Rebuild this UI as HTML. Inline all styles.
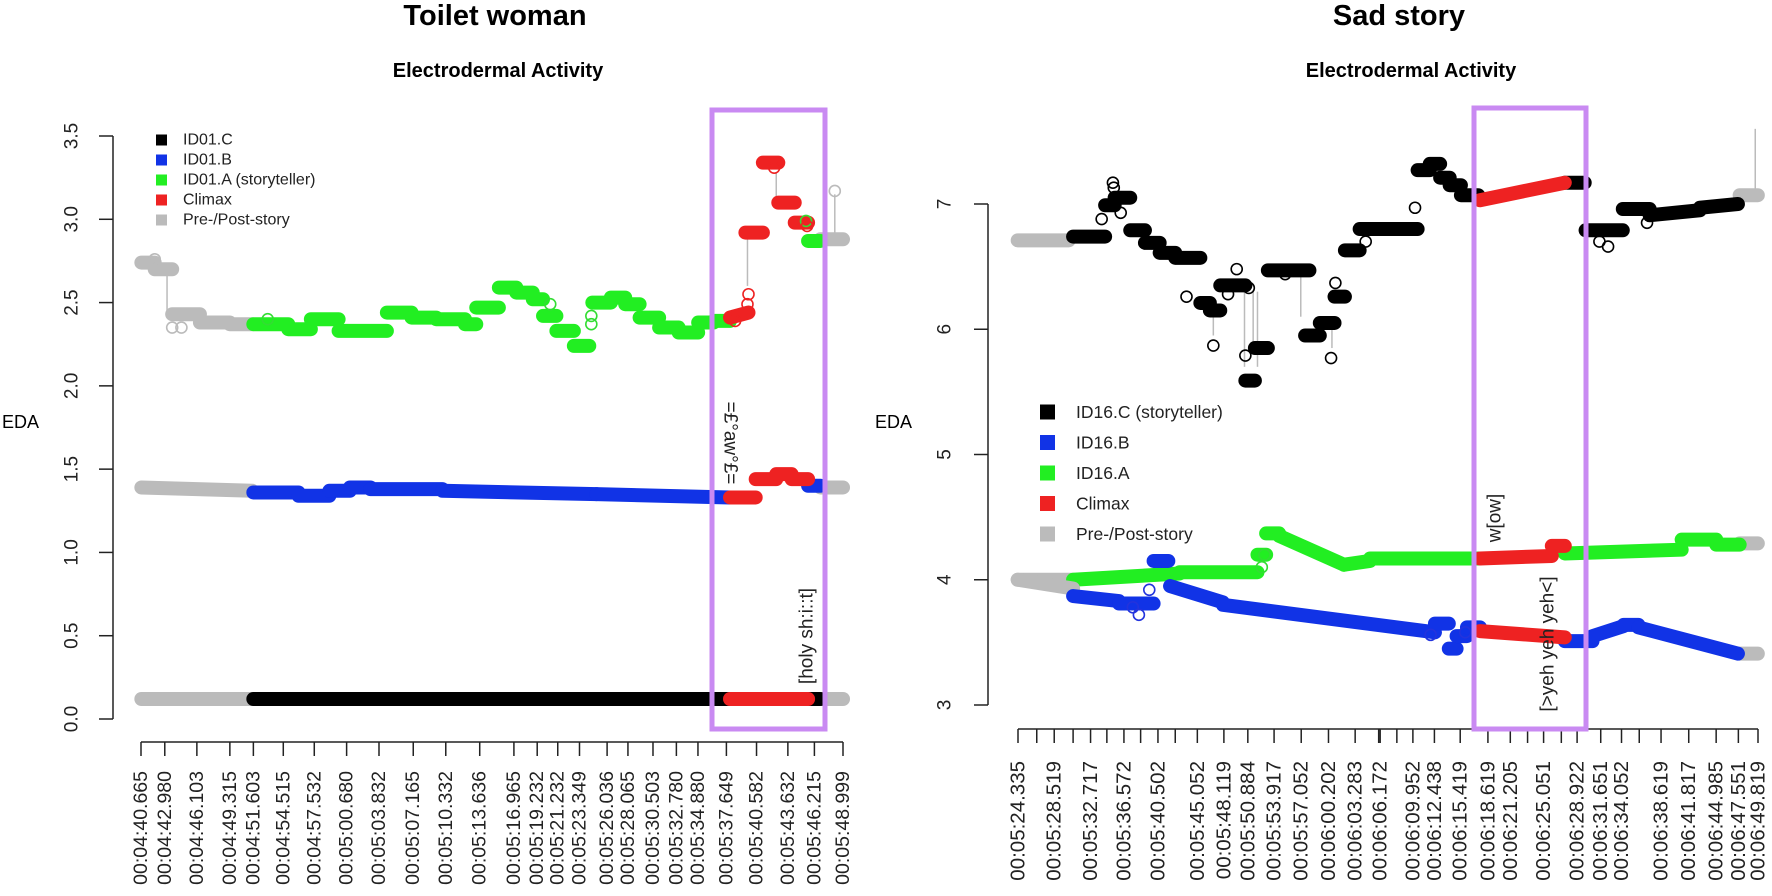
<!DOCTYPE html>
<html><head><meta charset="utf-8">
<style>
html,body{margin:0;padding:0;background:#fff;}
svg{display:block;font-family:"Liberation Sans",Arial,sans-serif;}
</style></head>
<body>
<svg id="fig" width="1772" height="896" viewBox="0 0 1772 896" xmlns="http://www.w3.org/2000/svg">
<text x="495" y="25" font-size="29" font-weight="bold" text-anchor="middle">Toilet woman</text>
<text x="498" y="77" font-size="20" font-weight="bold" text-anchor="middle">Electrodermal Activity</text>
<text x="1399" y="25" font-size="29" font-weight="bold" text-anchor="middle">Sad story</text>
<text x="1411" y="77" font-size="20" font-weight="bold" text-anchor="middle">Electrodermal Activity</text>
<text x="2" y="428" font-size="18">EDA</text>
<text x="875" y="428" font-size="18">EDA</text>
<g id="left"></g>
<g id="right"></g>
</svg>
<script>
// ---------- LEFT CHART DATA (Toilet woman) ----------
const leftTickLabels = ["00:04:40.665","00:04:42.980","00:04:46.103","00:04:49.315","00:04:51.603","00:04:54.515","00:04:57.532","00:05:00.680","00:05:03.832","00:05:07.165","00:05:10.332","00:05:13.636","00:05:16.965","00:05:19.232","00:05:21.232","00:05:23.349","00:05:26.036","00:05:28.065","00:05:30.503","00:05:32.780","00:05:34.880","00:05:37.649","00:05:40.582","00:05:43.632","00:05:46.215","00:05:48.999"];
const leftYTicks = [0.0,0.5,1.0,1.5,2.0,2.5,3.0,3.5];
const leftYLabels = ["0.0","0.5","1.0","1.5","2.0","2.5","3.0","3.5"];
// segments: [t0, t1, v0, v1?]
const leftCGray = [[280.7,291.5,0.12],[346.8,349.0,0.12]];
const leftCMain = [[291.6,338.0,0.12],[345.6,346.8,0.12]];
const leftCRed = [[338.0,345.6,0.12]];
const leftBGray = [[280.7,291.5,1.39,1.37],[346.8,349.0,1.39]];
const leftBMain = [[291.6,296,1.36],[296,299,1.34],[299,301,1.37],[301,303,1.39],[303,310,1.38],[310,325,1.37,1.35],[325,338,1.35,1.33],[345.6,346.8,1.40]];
const leftBRed = [[338,340.5,1.33],[340.5,342.5,1.44],[342.5,344,1.47],[344,345.6,1.44]];
const leftAGray = [[280.7,282.0,2.74],[282.0,283.7,2.70],[283.7,286.4,2.43],[286.4,289.3,2.38],[289.3,291.5,2.37],[346.8,349.0,2.88]];
const leftAMain = [[291.6,295.0,2.37],[295.0,297.2,2.34],[297.2,299.9,2.40],[299.9,304.6,2.33],[304.6,307.0,2.44],[307.0,309.4,2.41],[309.4,312.2,2.40],[312.2,313.3,2.37],[313.3,315.5,2.47],[315.5,317.2,2.59],[317.2,318.8,2.56],[318.8,319.8,2.52],[319.8,321.1,2.42],[321.1,322.8,2.33],[322.8,324.3,2.24],[324.6,326.4,2.50],[326.4,327.8,2.53],[327.8,329.2,2.49],[329.2,331.1,2.41],[331.1,333.0,2.35],[333.0,334.9,2.32],[334.9,336.4,2.38],[336.4,338.0,2.39],[345.6,346.8,2.87]];
const leftARed = [[338.0,339.8,2.41,2.44],[339.5,341.2,2.92],[341.2,342.7,3.34],[342.7,344.3,3.10],[344.3,345.6,2.98]];
const leftCircles = [[282.0,2.76,"#bbbbbb"],[283.7,2.35,"#bbbbbb"],[284.6,2.35,"#bbbbbb"],[293.0,2.40,"#33dd33"],[320.5,2.49,"#33dd33"],[324.5,2.42,"#33dd33"],[324.5,2.37,"#33dd33"],[338.5,2.39,"#ee2222"],[339.7,2.49,"#ee2222"],[339.8,2.55,"#ee2222"],[342.3,3.31,"#ee2222"],[345.4,2.99,"#33dd33"],[345.5,2.96,"#ee2222"],[348.2,3.17,"#bbbbbb"]];
const leftConnectors = [[283.2,2.70,2.45],[339.7,2.60,2.90],[342.5,3.12,3.28],[348.2,2.90,3.15]];

// ---------- RIGHT CHART DATA (Sad story) ----------
const rightTickTimes = [324.335,326.5,328.519,330.7,332.717,334.6,336.572,338.5,340.502,342.5,345.052,348.119,350.884,353.917,357.052,360.202,363.283,366.0,366.172,368.1,369.952,372.438,375.419,378.619,381.205,383.2,385.051,387.1,388.922,391.651,394.052,396.1,398.619,401.817,404.985,407.551,409.819];
const rightTickLabels = ["00:05:24.335","","00:05:28.519","","00:05:32.717","","00:05:36.572","","00:05:40.502","","00:05:45.052","00:05:48.119","00:05:50.884","00:05:53.917","00:05:57.052","00:06:00.202","00:06:03.283","","00:06:06.172","","00:06:09.952","00:06:12.438","00:06:15.419","00:06:18.619","00:06:21.205","","00:06:25.051","","00:06:28.922","00:06:31.651","00:06:34.052","","00:06:38.619","00:06:41.817","00:06:44.985","00:06:47.551","00:06:49.819"];
const rightYTicks = [3,4,5,6,7];
const rightYLabels = ["3","4","5","6","7"];
const rightCGray = [[324.3,330.2,6.71],[407.7,409.8,7.07]];
const rightCMain = [[330.7,334.4,6.74],[334.4,335.5,6.99],[335.5,337.3,7.05],[337.3,339.0,6.79],[339.0,340.7,6.69],[340.7,342.5,6.61],[342.5,345.4,6.57],[345.4,346.5,6.21],[346.5,347.7,6.15],[347.7,350.6,6.35],[350.6,351.7,5.59],[351.7,353.2,5.85],[353.2,358.0,6.47],[357.5,359.2,5.95],[359.2,360.9,6.05],[360.9,362.1,6.26],[362.1,363.8,6.63],[363.8,370.5,6.80],[370.5,371.9,7.27],[371.9,373.1,7.32],[373.1,374.2,7.21],[374.2,375.5,7.15],[375.5,377.5,7.07],[387.5,389.8,7.17],[389.9,394.2,6.79],[394.2,397.3,6.96],[397.3,403.1,6.91,6.95],[403.1,407.5,6.97,7.0]];
const rightCRed = [[377.7,387.5,7.03,7.17]];
const rightBGray = [[324.3,330.7,4.0,3.93],[407.7,409.8,3.41]];
const rightBMain = [[330.7,336,3.87,3.83],[336,340,3.81],[340,341.7,4.15],[341.9,348,3.95,3.82],[348,372.5,3.80,3.58],[372.5,374.1,3.65],[374.1,375.0,3.45],[375.0,376.2,3.55],[376.2,377.7,3.62],[387.5,390.7,3.51],[390.7,394.3,3.55,3.63],[394.3,396,3.64],[396,407.5,3.62,3.41]];
const rightBRed = [[377.7,387.5,3.59,3.54]];
const rightAGray = [[324.3,330.7,4.0],[407.7,409.8,4.29]];
const rightAMain = [[330.7,343,4.0,4.05],[343,352.0,4.06],[352.0,353.0,4.2],[353.0,354.5,4.37],[354.5,362,4.35,4.12],[362,365,4.12,4.15],[365,377.7,4.17],[387.5,401,4.21,4.24],[401,405,4.32],[405,407.7,4.28]];
const rightARed = [[377.7,386.0,4.17,4.19],[386,387.5,4.27]];
const rightCircles = [[334.0,6.88,"#000"],[335.3,7.17,"#000"],[335.4,7.13,"#000"],[336.2,6.93,"#000"],[343.8,6.26,"#000"],[346.9,5.87,"#000"],[348.6,6.28,"#000"],[349.6,6.48,"#000"],[350.6,5.79,"#000"],[351.0,6.33,"#000"],[355.2,6.44,"#000"],[360.5,5.77,"#000"],[361.0,6.37,"#000"],[364.5,6.70,"#000"],[370.2,6.97,"#000"],[391.5,6.70,"#000"],[392.5,6.66,"#000"],[397.0,6.85,"#000"],[352.5,4.10,"#33dd33"],[352.8,4.20,"#33dd33"],[337.6,3.78,"#2233dd"],[338.3,3.72,"#2233dd"],[339.5,3.92,"#2233dd"],[372.0,3.56,"#2233dd"],[376.0,3.58,"#2233dd"]];
const rightConnectors = [[346.9,5.95,6.15],[350.5,5.70,6.30],[351.5,5.90,6.30],[352.0,5.70,6.30],[357.0,6.10,6.45],[360.6,5.85,6.00],[409.5,7.10,7.60]];

const NS = "http://www.w3.org/2000/svg";
const COLORS = {black:"#000000", blue:"#1133e6", green:"#22ee22", red:"#ee2222", gray:"#bbbbbb"};
function mk(tag, attrs, parent){ const e=document.createElementNS(NS,tag); for(const k in attrs) e.setAttribute(k,attrs[k]); parent.appendChild(e); return e; }

function drawChart(g, cfg){
  const xs = t => cfg.x0 + (t - cfg.t0) * (cfg.x1 - cfg.x0) / (cfg.t1 - cfg.t0);
  const ys = v => cfg.yb - (v - cfg.v0) * (cfg.yb - cfg.yt) / (cfg.v1 - cfg.v0);
  const ya = mk("line",{x1:cfg.yaxX,x2:cfg.yaxX,y1:ys(cfg.yTicks[0]),y2:ys(cfg.yTicks[cfg.yTicks.length-1]),stroke:"#222","stroke-width":1.5},g);
  
  
  cfg.yTicks.forEach((v,i)=>{
    const tk = mk("line",{x1:cfg.yaxX-14,x2:cfg.yaxX,y1:ys(v),y2:ys(v),stroke:"#222","stroke-width":1.5},g);
    
    
    const tx = mk("text",{x:cfg.yLabX,y:ys(v),"font-size":19,"text-anchor":"middle",fill:"#222",transform:`rotate(-90 ${cfg.yLabX} ${ys(v)})`,"dominant-baseline":"central"},g);
    tx.textContent = cfg.yLabels[i];
    
    
  });
  const xa = mk("line",{x1:xs(cfg.xTicks[0]),x2:xs(cfg.xTicks[cfg.xTicks.length-1]),y1:cfg.xaxY,y2:cfg.xaxY,stroke:"#222","stroke-width":1.5},g);
  
  
  cfg.xTicks.forEach((t,i)=>{
    const x = xs(t);
    const tk = mk("line",{x1:x,x2:x,y1:cfg.xaxY,y2:cfg.xaxY+14,stroke:"#222","stroke-width":1.5},g);
    
    
    if(cfg.xLabels[i]){
      const tx = mk("text",{x:x,y:cfg.xLabY,"font-size":cfg.xFont,"text-anchor":"end","dominant-baseline":"central",fill:"#222",transform:`rotate(-90 ${x} ${cfg.xLabY})`},g);
      tx.textContent = cfg.xLabels[i];
      
      
    }
  });
  cfg.connectors.forEach(c=>{
    const l = mk("line",{x1:xs(c[0]),x2:xs(c[0]),y1:ys(c[1]),y2:ys(c[2]),stroke:"#bbbbbb","stroke-width":1.5},g);
    
    
  });
  cfg.series.forEach(s=>{
    s.segs.forEach(sg=>{
      const v1 = sg.length>3 ? sg[3] : sg[2];
      const p = mk("line",{x1:xs(sg[0]),x2:xs(sg[1]),y1:ys(sg[2]),y2:ys(v1),stroke:s.color,"stroke-width":14,"stroke-linecap":"round"},g);
      
      
    });
  });
  cfg.circles.forEach(c=>{
    const ci = mk("circle",{cx:xs(c[0]),cy:ys(c[1]),r:5.5,fill:"none",stroke:c[2],"stroke-width":1.6},g);
    
    
  });
  const bx = mk("rect",{x:cfg.box[0],y:cfg.box[1],width:cfg.box[2]-cfg.box[0],height:cfg.box[3]-cfg.box[1],fill:"none",stroke:"#c98af2","stroke-width":5},g);
  
  
  cfg.notes.forEach(n=>{
    const tx = mk("text",{x:n.x,y:n.y,"font-size":19,"text-anchor":"middle","dominant-baseline":"central",fill:"#222",transform:`rotate(${n.rot} ${n.x} ${n.y})`},g);
    tx.textContent = n.text;
    
    
  });
  cfg.legend.forEach((lg,i)=>{
    const y = cfg.legY + i*cfg.legDy;
    const r = mk("rect",{x:cfg.legX,y:y-cfg.legSq/2,width:cfg.legSq,height:cfg.legSq,fill:lg[1]},g);
    
    
    const tx = mk("text",{x:cfg.legTX,y:y,"font-size":cfg.legFont,"dominant-baseline":"central",fill:"#222"},g);
    tx.textContent = lg[0];
    
    
  });
}

const leftTickTimes = leftTickLabels.map(s=>{const p=s.split(":");return +p[1]*60 + +p[2];});
drawChart(document.getElementById("left"),{
  t0:280.665,t1:348.999,x0:141,x1:843,v0:0,v1:3.5,yb:719,yt:136,
  yaxX:113,yLabX:72,xaxY:742,xLabY:771,xFont:19.5,
  yTicks:leftYTicks,yLabels:leftYLabels,xTicks:leftTickTimes,xLabels:leftTickLabels,
  series:[
    {name:"id01c-prepost",color:COLORS.gray,segs:leftCGray},
    {name:"id01c-series",color:COLORS.black,segs:leftCMain},
    {name:"id01c-climax",color:COLORS.red,segs:leftCRed},
    {name:"id01b-prepost",color:COLORS.gray,segs:leftBGray},
    {name:"id01b-series",color:COLORS.blue,segs:leftBMain},
    {name:"id01b-climax",color:COLORS.red,segs:leftBRed},
    {name:"id01a-prepost",color:COLORS.gray,segs:leftAGray},
    {name:"id01a-series",color:COLORS.green,segs:leftAMain},
    {name:"id01a-climax",color:COLORS.red,segs:leftARed}
  ],
  circles:leftCircles,connectors:leftConnectors,
  box:[712,110,825,729],
  notes:[{text:"=£°aw°£=",x:730,y:443,rot:90},{text:"[holy sh:i::t]",x:807,y:636,rot:-90}],
  legend:[["ID01.C",COLORS.black],["ID01.B",COLORS.blue],["ID01.A (storyteller)",COLORS.green],["Climax",COLORS.red],["Pre-/Post-story",COLORS.gray]],
  legX:156,legY:140,legDy:20,legSq:11,legTX:183,legFont:16
});
drawChart(document.getElementById("right"),{
  t0:324.335,t1:409.819,x0:1018,x1:1758,v0:3,v1:7,yb:705,yt:204,
  yaxX:988,yLabX:945,xaxY:729,xLabY:761,xFont:20.5,
  yTicks:rightYTicks,yLabels:rightYLabels,xTicks:rightTickTimes,xLabels:rightTickLabels,
  series:[
    {name:"id16c-prepost",color:COLORS.gray,segs:rightCGray},
    {name:"id16c-series",color:COLORS.black,segs:rightCMain},
    {name:"id16c-climax",color:COLORS.red,segs:rightCRed},
    {name:"id16a-prepost",color:COLORS.gray,segs:rightAGray},
    {name:"id16a-series",color:COLORS.green,segs:rightAMain},
    {name:"id16a-climax",color:COLORS.red,segs:rightARed},
    {name:"id16b-prepost",color:COLORS.gray,segs:rightBGray},
    {name:"id16b-series",color:COLORS.blue,segs:rightBMain},
    {name:"id16b-climax",color:COLORS.red,segs:rightBRed}
  ],
  circles:rightCircles,connectors:rightConnectors,
  box:[1474,108,1586,729],
  notes:[{text:"w[ow]",x:1495,y:518,rot:-90},{text:"[>yeh yeh yeh<]",x:1548,y:644,rot:-90}],
  legend:[["ID16.C (storyteller)",COLORS.black],["ID16.B",COLORS.blue],["ID16.A",COLORS.green],["Climax",COLORS.red],["Pre-/Post-story",COLORS.gray]],
  legX:1040,legY:412,legDy:30.5,legSq:15,legTX:1076,legFont:17.5
});
</script>
</body></html>
